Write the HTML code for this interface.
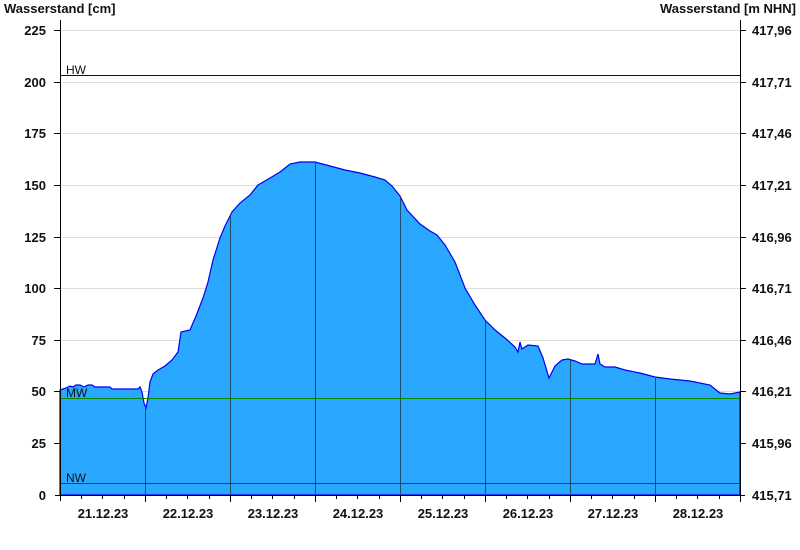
<!DOCTYPE html>
<html><head><meta charset="utf-8"><style>
body{margin:0;background:#fff}
svg{display:block;font-family:"Liberation Sans",Arial,sans-serif}
.b{font-weight:bold;font-size:13px;fill:#111}
.s{font-size:12px;fill:#111}
</style></head><body>
<svg width="800" height="550" viewBox="0 0 800 550">
<defs><clipPath id="c"><polygon id="pp" points="60,495 60,390 63,389 66,388 70,386 73,387 76,385 80,385 84,387 88,385 92,385 95,387 110,387 112,389 138,389 140,387 142,392 144,403 146,408 148,398 150,382 153,374 158,370 165,366 172,360 178,352 181,332 190,330 196,316 203,298 208,282 213,260 220,238 225,226 232,212 240,203 250,195 258,185 270,178 280,172 290,164 300,162 315,162 330,166 345,170 360,173 375,177 385,180 392,186 400,196 407,210 420,224 430,231 437,235 445,245 455,262 465,288 475,305 485,320 495,330 505,338 515,347 518,352 520,342 522,349 528,345 538,346 543,358 549,378 555,366 562,360 568,359 575,361 582,364 595,364 598,354 600,364 605,367 615,367 625,370 640,373 655,377 670,379 690,381 710,385 720,393 730,394 740,392 740,495"/></clipPath></defs>
<g stroke="#ddd" stroke-width="1">
<line x1="60" x2="740" y1="30.5" y2="30.5"/><line x1="60" x2="740" y1="82.5" y2="82.5"/><line x1="60" x2="740" y1="133.5" y2="133.5"/><line x1="60" x2="740" y1="185.5" y2="185.5"/><line x1="60" x2="740" y1="237.5" y2="237.5"/><line x1="60" x2="740" y1="288.5" y2="288.5"/><line x1="60" x2="740" y1="340.5" y2="340.5"/><line x1="60" x2="740" y1="391.5" y2="391.5"/><line x1="60" x2="740" y1="443.5" y2="443.5"/>
</g>
<polygon points="60,495 60,390 63,389 66,388 70,386 73,387 76,385 80,385 84,387 88,385 92,385 95,387 110,387 112,389 138,389 140,387 142,392 144,403 146,408 148,398 150,382 153,374 158,370 165,366 172,360 178,352 181,332 190,330 196,316 203,298 208,282 213,260 220,238 225,226 232,212 240,203 250,195 258,185 270,178 280,172 290,164 300,162 315,162 330,166 345,170 360,173 375,177 385,180 392,186 400,196 407,210 420,224 430,231 437,235 445,245 455,262 465,288 475,305 485,320 495,330 505,338 515,347 518,352 520,342 522,349 528,345 538,346 543,358 549,378 555,366 562,360 568,359 575,361 582,364 595,364 598,354 600,364 605,367 615,367 625,370 640,373 655,377 670,379 690,381 710,385 720,393 730,394 740,392 740,495" fill="#2aa8ff" stroke="#0000ee" stroke-width="1.2"/>
<g clip-path="url(#c)" stroke="#1f4d6e" stroke-width="1">
<line x1="145.5" x2="145.5" y1="0" y2="495"/><line x1="230.5" x2="230.5" y1="0" y2="495"/><line x1="315.5" x2="315.5" y1="0" y2="495"/><line x1="400.5" x2="400.5" y1="0" y2="495"/><line x1="485.5" x2="485.5" y1="0" y2="495"/><line x1="570.5" x2="570.5" y1="0" y2="495"/><line x1="655.5" x2="655.5" y1="0" y2="495"/>
</g>
<line x1="60" x2="740" y1="75.5" y2="75.5" stroke="#0000aa"/>
<line x1="60" x2="740" y1="398.5" y2="398.5" stroke="#008800"/>
<line x1="60" x2="740" y1="483.5" y2="483.5" stroke="#cc0000"/>
<text x="66" y="74" class="s">HW</text><text x="66" y="397" class="s">MW</text><text x="66" y="482" class="s">NW</text>
<g stroke="#000" stroke-width="1">
<line x1="60.5" x2="60.5" y1="20" y2="501"/><line x1="740.5" x2="740.5" y1="20" y2="495"/><line x1="55" x2="745" y1="495.5" y2="495.5"/>
<line x1="54" x2="60" y1="30.5" y2="30.5"/><line x1="54" x2="60" y1="82.5" y2="82.5"/><line x1="54" x2="60" y1="133.5" y2="133.5"/><line x1="54" x2="60" y1="185.5" y2="185.5"/><line x1="54" x2="60" y1="237.5" y2="237.5"/><line x1="54" x2="60" y1="288.5" y2="288.5"/><line x1="54" x2="60" y1="340.5" y2="340.5"/><line x1="54" x2="60" y1="391.5" y2="391.5"/><line x1="54" x2="60" y1="443.5" y2="443.5"/>
<line x1="740" x2="746" y1="30.5" y2="30.5"/><line x1="740" x2="746" y1="82.5" y2="82.5"/><line x1="740" x2="746" y1="133.5" y2="133.5"/><line x1="740" x2="746" y1="185.5" y2="185.5"/><line x1="740" x2="746" y1="237.5" y2="237.5"/><line x1="740" x2="746" y1="288.5" y2="288.5"/><line x1="740" x2="746" y1="340.5" y2="340.5"/><line x1="740" x2="746" y1="391.5" y2="391.5"/><line x1="740" x2="746" y1="443.5" y2="443.5"/>
<path d="M81.5 495v4M102.5 495v4M124.5 495v4M145.5 495v7M166.5 495v4M187.5 495v4M209.5 495v4M230.5 495v7M251.5 495v4M272.5 495v4M294.5 495v4M315.5 495v7M336.5 495v4M357.5 495v4M379.5 495v4M400.5 495v7M421.5 495v4M442.5 495v4M464.5 495v4M485.5 495v7M506.5 495v4M527.5 495v4M549.5 495v4M570.5 495v7M591.5 495v4M612.5 495v4M634.5 495v4M655.5 495v7M676.5 495v4M697.5 495v4M719.5 495v4M740.5 495v7"/>
</g>
<text x="4" y="13" class="b">Wasserstand [cm]</text>
<text x="796" y="13" class="b" text-anchor="end">Wasserstand [m NHN]</text>
<g class="b" text-anchor="end">
<text x="46" y="35">225</text><text x="46" y="87">200</text><text x="46" y="138">175</text><text x="46" y="190">150</text><text x="46" y="242">125</text><text x="46" y="293">100</text><text x="46" y="345">75</text><text x="46" y="396">50</text><text x="46" y="448">25</text><text x="46" y="500">0</text>
</g>
<g class="b">
<text x="752" y="35">417,96</text><text x="752" y="87">417,71</text><text x="752" y="138">417,46</text><text x="752" y="190">417,21</text><text x="752" y="242">416,96</text><text x="752" y="293">416,71</text><text x="752" y="345">416,46</text><text x="752" y="396">416,21</text><text x="752" y="448">415,96</text><text x="752" y="500">415,71</text>
</g>
<g class="b" text-anchor="middle">
<text x="103" y="518">21.12.23</text><text x="188" y="518">22.12.23</text><text x="273" y="518">23.12.23</text><text x="358" y="518">24.12.23</text><text x="443" y="518">25.12.23</text><text x="528" y="518">26.12.23</text><text x="613" y="518">27.12.23</text><text x="698" y="518">28.12.23</text>
</g>
</svg>
</body></html>
